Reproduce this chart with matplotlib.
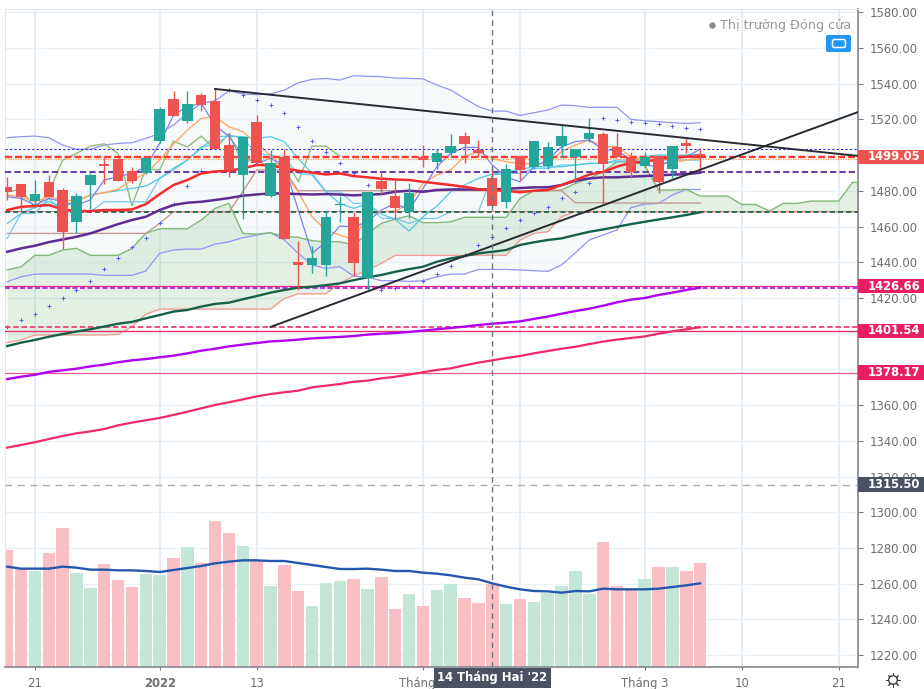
import numpy as np
import matplotlib
matplotlib.use("Agg")
import matplotlib.pyplot as plt
from matplotlib.patches import Rectangle, FancyBboxPatch, Circle

# candles
opens = [1482, 1483.6, 1474.3, 1485, 1480.5, 1462.7, 1483.5, 1494.9, 1497.7, 1490.9,
         1489.8, 1508.1, 1531.3, 1519.3, 1534, 1530.3, 1505.7, 1489, 1518.8, 1477.1,
         1499.1, 1440.1, 1438.5, 1438.5, 1471.9, 1465.3, 1431.2, 1485.3, 1477.1, 1468,
         1498.8, 1496.1, 1501, 1510.7, 1502.9, 1487, 1473.6, 1499.3, 1493.5, 1493.9,
         1505, 1499.1, 1508.9, 1511.7, 1504.8, 1499.2, 1493.9, 1499.5, 1492.2, 1506.6,
         1500.5]
closes = [1479.5, 1476.7, 1478.2, 1476.7, 1456.8, 1477.1, 1488.7, 1494.1, 1485.7, 1485.5,
          1498.2, 1525.7, 1522.1, 1528.5, 1528.3, 1503.3, 1491.7, 1510.4, 1495.8, 1495.8,
          1452.8, 1438.6, 1442.6, 1465.3, 1472.8, 1439.4, 1479.4, 1481, 1470.4, 1479,
          1497.3, 1501, 1505.1, 1506.4, 1501, 1471.7, 1492.4, 1491.7, 1507.9, 1504.6,
          1510.7, 1503.3, 1512.2, 1494.9, 1499.2, 1490.4, 1498.8, 1485.2, 1505.1, 1505.1,
          1499.5]
highs = [1488, 1483.6, 1486, 1488.9, 1481.4, 1479, 1489.8, 1498.8, 1497.7, 1493.5,
         1498.6, 1526.8, 1536.1, 1536.1, 1534.6, 1537.4, 1512.2, 1510.4, 1522.5, 1502.9,
         1503.4, 1451.9, 1449.1, 1469.3, 1477.1, 1468.3, 1479.4, 1490.7, 1486, 1484.6,
         1505.7, 1503.3, 1511.7, 1512.8, 1508.5, 1493.5, 1494.9, 1499.3, 1507.9, 1507.5,
         1516.9, 1503.3, 1520.6, 1513.2, 1512.2, 1502, 1502, 1500, 1505.1, 1509.8,
         1504.2]
lows = [1475, 1467.4, 1471, 1476.7, 1447.4, 1456.2, 1470, 1483.8, 1485.7, 1484.2,
        1489.4, 1507, 1522.1, 1518.2, 1524.7, 1503.3, 1487.9, 1464.2, 1495.4, 1476.4,
        1452.8, 1424.4, 1434.2, 1432.3, 1462.7, 1432.3, 1424.4, 1478.2, 1464, 1465,
        1493.5, 1492, 1498.8, 1495.8, 1499.2, 1471.7, 1470.2, 1486.1, 1492, 1492.4,
        1498.8, 1484.6, 1507.6, 1473.4, 1498.8, 1487, 1493.2, 1479, 1487.4, 1501,
        1491.7]

volumes = [351, 295, 287, 341, 416, 281, 236, 308, 262, 239, 278, 275, 326, 359, 313,
           437, 401, 364, 318, 243, 305, 229, 183, 251, 258, 263, 233, 269, 173, 218,
           183, 230, 249, 208, 191, 250, 188, 203, 194, 221, 243, 289, 218, 374, 243,
           231, 263, 301, 299, 289, 311]
volume_ma = [301, 295, 295, 295, 301, 298, 292, 292, 290, 290, 288, 285, 291, 297, 303,
             311, 316, 320, 320, 318, 318, 312, 306, 300, 294, 294, 295, 292, 288, 288,
             283, 280, 275, 268, 263, 251, 241, 233, 228, 227, 223, 228, 227, 235, 233,
             233, 233, 235, 240, 245, 251]

bb_upper = [1509.8, 1510.4, 1510.7, 1509.8, 1505.7, 1503.3, 1503.3, 1505.7, 1506.6, 1507,
            1509.4, 1512.2, 1516.9, 1523.4, 1529, 1530.5, 1536.1, 1534.3, 1533.9, 1534.3,
            1536.5, 1540.6, 1542.5, 1543, 1542.1, 1544.5, 1544.2, 1544, 1543.2, 1543,
            1542.8, 1539.3, 1536.5, 1531.8, 1527.2, 1524.7, 1524.7, 1522.3, 1523.8, 1525.3,
            1528.1, 1527.7, 1526.8, 1526.8, 1526.8, 1520.1, 1519.3, 1518.8, 1518.2, 1517.8,
            1518.2]
bb_lower = [1429.1, 1431.9, 1433.4, 1433.4, 1433.4, 1433.4, 1433.4, 1432.7, 1432.7, 1432.7,
            1435.1, 1445, 1446.9, 1447.4, 1447.4, 1450.2, 1451.5, 1453.8, 1455.3, 1456.6,
            1452.5, 1445, 1438.5, 1436.6, 1437.5, 1432.3, 1431.6, 1429.7, 1429.7, 1429.3,
            1429.7, 1431.9, 1433.4, 1433.4, 1436, 1436, 1436, 1435.7, 1435.3, 1434.9,
            1438.5, 1445.4, 1452.5, 1455.3, 1458.1, 1470.6, 1472.6, 1473, 1477.7, 1480.8,
            1480.8]

# ichimoku cloud runs on past the last candle
span_a = [1435.7, 1437.5, 1443.9, 1443.9, 1446.9, 1447.8, 1443.9, 1443.9, 1443.9, 1447.8,
          1456.2, 1458.8, 1458.8, 1458.8, 1463.7, 1470.2, 1473, 1456.2, 1455.8, 1456.6,
          1454.4, 1454, 1452.1, 1451.5, 1451.5, 1449.7, 1456.2, 1461.8, 1464.2, 1466.1,
          1462.2, 1462.2, 1462.7, 1465.2, 1465.2, 1465.2, 1465.2, 1475.8, 1480.1, 1480.1,
          1480.5, 1484.2, 1487, 1490.7, 1496.4, 1496.4, 1494.5, 1480.5, 1480.5, 1480.9,
          1477.1, 1477.1, 1477.1, 1472.4, 1472.4, 1468.7, 1473, 1473, 1474.3, 1474.3,
          1474.3, 1484.8, 1484.8]
span_b = [1395, 1396.5, 1399.3, 1399.3, 1399.3, 1399.3, 1399.3, 1399.3, 1399.7, 1404,
          1410.9, 1413.8, 1413.8, 1413.8, 1413.8, 1413.8, 1413.8, 1413.8, 1413.8, 1413.8,
          1419.8, 1422.3, 1422.4, 1422.4, 1428.2, 1432.3, 1435.7, 1439.4, 1443.9, 1443.9,
          1443.9, 1443.9, 1443.9, 1443.9, 1443.9, 1443.9, 1443.9, 1452.5, 1456.2, 1457.1,
          1465.5, 1468.3, 1468.3, 1468.3, 1468.3, 1468.3, 1468.3, 1468.3, 1468.3, 1468.3,
          1468.3, 1468.3, 1468.3, 1468.3, 1468.3, 1468.3, 1468.3, 1468.3, 1468.3, 1468.3,
          1468.3, 1468.3, 1468.3]
kijun = [1456.2, 1456.2, 1456.2, 1456.2, 1456.2, 1456.2, 1456.2, 1456.2, 1456.2, 1456.2,
         1456.2, 1461.8, 1468.3, 1468.3, 1468.3, 1468.3, 1468.3, 1479.5, 1491.7, 1491.7,
         1491.7, 1480.1, 1480.1, 1480.1, 1480.1, 1480.1, 1480.1, 1480.1, 1480.1, 1480.1,
         1480.1, 1480.1, 1480.1, 1480.1, 1480.1, 1480.1, 1480.1, 1480.1, 1480.1, 1480.1,
         1480.1, 1473.4, 1473.4, 1473.4, 1473.2, 1473.2, 1473.2, 1473.2, 1473.2, 1473.2,
         1473.2]
tenkan = [1476.7, 1475.8, 1472.1, 1475.8, 1473.9, 1472.1, 1474.9, 1486.1, 1487.9, 1489.8,
          1493.5, 1506.6, 1522.5, 1527.2, 1529, 1516.9, 1510.4, 1500.1, 1495.4, 1498.2,
          1494.5, 1469.3, 1445, 1451.5, 1460.3, 1459.9, 1462.7, 1469.3, 1473, 1469.3,
          1481.4, 1493.5, 1501, 1504.4, 1504.4, 1494.5, 1487.9, 1485.1, 1493.5, 1497.3,
          1504.7, 1507.6, 1508.5, 1502.9, 1502.9, 1497.3, 1494.5, 1493.5, 1497.7, 1499.1,
          1503.3]

ema_red = [1469.3, 1471.1, 1471.5, 1472.1, 1469.6, 1468.7, 1468.7, 1469.3, 1469.3, 1469.6,
           1472.6, 1478.2, 1483.3, 1486.1, 1489.8, 1490.9, 1491.3, 1492.6, 1494.5, 1494.5,
           1492.6, 1491.3, 1490.2, 1489.2, 1489.8, 1488.3, 1487.6, 1486.8, 1486.4, 1486.1,
           1485.1, 1484.2, 1483.3, 1482.3, 1481, 1480.5, 1480.1, 1479.2, 1480.1, 1480.5,
           1483.3, 1486.1, 1489.2, 1490.7, 1493.6, 1495.8, 1496.4, 1497.7, 1498.8, 1499.2,
           1499.2]
ema_indigo = [1445.9, 1447.8, 1449.3, 1451.3, 1452.8, 1454.3, 1456.2, 1458.8, 1461.4, 1463.7,
              1465.5, 1469.3, 1472.1, 1473.4, 1473.9, 1474.9, 1476, 1477.3, 1478, 1478.6,
              1478.6, 1478.2, 1478, 1478.2, 1478, 1477.5, 1477.9, 1478.2, 1479.5, 1480.1,
              1479.5, 1480.5, 1480.8, 1480.8, 1480.8, 1480.8, 1481.2, 1481.6, 1482, 1482,
              1483.3, 1485.7, 1487, 1487.6, 1487.6, 1488, 1488.3, 1488.7, 1489.1, 1489.4,
              1490.2]
ema_teal = [1393.1, 1395, 1396.5, 1398.3, 1399.8, 1401.2, 1402.5, 1404, 1405.6, 1406.6,
            1408.6, 1410.5, 1412.4, 1413.3, 1415.2, 1416.7, 1417.4, 1419.3, 1421.1, 1423,
            1424.5, 1425.8, 1426.3, 1427.2, 1428.2, 1430, 1431.6, 1432.9, 1434.7, 1436.2,
            1437.5, 1440.3, 1442.2, 1443.5, 1445, 1445.9, 1446.9, 1449.7, 1451.2, 1452.5,
            1453.4, 1455.3, 1457.1, 1458.4, 1459.9, 1461.4, 1462.7, 1464, 1465.2, 1466.5,
            1468]
ema_violet = [1374.6, 1375.9, 1377, 1378.6, 1379.5, 1380.4, 1381.7, 1382.7, 1384, 1385.1,
              1385.8, 1386.8, 1387.7, 1389, 1390.5, 1391.6, 1392.9, 1393.9, 1394.8, 1395.7,
              1396.1, 1396.7, 1397.4, 1397.8, 1398.2, 1398.7, 1399.5, 1400, 1400.4, 1401,
              1401.7, 1402.5, 1403.2, 1404, 1404.9, 1405.6, 1406.2, 1406.9, 1408.3, 1409.6,
              1411.2, 1412.7, 1414, 1415.7, 1417.6, 1419.1, 1420, 1421.7, 1423, 1424.5,
              1425.8]
ema_crimson = [1336.2, 1337.7, 1339.2, 1341, 1342.7, 1344.2, 1345.3, 1346.6, 1348.7, 1350.2,
               1351.5, 1352.8, 1354.5, 1356.3, 1358.2, 1360.1, 1361.6, 1363.2, 1364.9, 1366.2,
               1367.2, 1368.1, 1370, 1370.9, 1371.8, 1373.1, 1373.7, 1375, 1375.9, 1377.1,
               1378.4, 1379.7, 1380.6, 1382.3, 1383.8, 1385.1, 1386.4, 1387.5, 1389, 1390.3,
               1391.6, 1392.7, 1394.2, 1395.6, 1396.7, 1397.6, 1398.5, 1400, 1401.3, 1402.5,
               1403.6]
ma_cyan = [1461.8, 1467.4, 1470.8, 1473.9, 1471.1, 1473.9, 1477.7, 1479, 1480.1, 1481.4,
           1482.7, 1487, 1492.6, 1497.3, 1503.8, 1510.4, 1510.7, 1510.4, 1509.4, 1510.4,
           1507.5, 1498.2, 1489.8, 1479.5, 1473, 1470.2, 1473, 1467, 1464, 1457.5,
           1465.5, 1471.5, 1479.5, 1483.3, 1487, 1489.4, 1490.7, 1492, 1493.5, 1493.5,
           1493.5, 1494.5, 1495.4, 1495.4, 1496.4, 1496.4, 1499.2, 1500.1, 1500.1, 1500.1,
           1500.6]
ma_sky = [1453.4, 1467.4, 1467.4, 1475.8, 1468.3, 1468.3, 1468.3, 1473.9, 1473.9, 1473.9,
          1473.9, 1487, 1491.7, 1497.3, 1504.7, 1505.7, 1511.3, 1509.4, 1501, 1500.1,
          1498.2, 1489.8, 1488.9, 1479.5, 1479.5, 1473, 1473, 1464.6, 1464.6, 1461.8,
          1464.6, 1464.6, 1468.3, 1468.3, 1468.3, 1488.9, 1489.8, 1489.8, 1492.6, 1492.6,
          1494.5, 1494.5, 1495.4, 1495.4, 1497.3, 1497.3, 1497.3, 1497.3, 1497.3, 1497.3,
          1497.3]
ma_orange = [1477.7, 1476.7, 1473.9, 1476.7, 1474.9, 1474.3, 1477.7, 1479, 1480.9, 1486.1,
             1489.8, 1497.3, 1506.2, 1514.1, 1520.6, 1521.6, 1515.9, 1513.2, 1506.6, 1500.1,
             1489.8, 1479.5, 1465.5, 1458, 1455.3, 1452.5, 1466.5, 1468.3, 1468.7, 1473,
             1484.2, 1488.9, 1491.7, 1499.2, 1502, 1498.2, 1496.3, 1495.4, 1495, 1495.8,
             1502, 1505.7, 1508.5, 1504.7, 1504.8, 1499.2, 1497.7, 1495.4, 1495.8, 1497.3,
             1498]
sar = [1404, 1407.5, 1410.9, 1415.5, 1420, 1424.5, 1429.5, 1436.2, 1442.4, 1448.5,
       1453.6, 1462, 1472.4, 1482.7, 1491.1, np.nan, 1536.5, 1533.7, 1530.9, 1528.1,
       1523.8, 1515.9, 1508.1, 1501.9, 1495.4, 1489.8, 1483.3, 1424.4, 1425.8, 1426.7,
       1429.7, 1433.4, 1437.9, 1443.9, 1449.7, 1454.1, 1459, 1463.7, 1467.4, 1471.1,
       1475.8, 1479.4, 1484.6, 1520.6, 1519.7, 1518.8, 1517.8, 1517.3, 1516.3, 1515.4,
       1514.5]

trend_down = ([15, 61.4], [1537.1, 1499.6])
trend_up = ([19, 61.4], [1403.8, 1524.2])

price_ticks = list(range(1220, 1581, 20))
hidden_price_labels = [1380, 1400, 1500]  # covered by the price tags in the original
date_ticks = [2, 11, 18, 30, 37, 46, 53, 60]
date_labels = ["21", "2022", "13", "Tháng 2", "", "Tháng 3", "10", "21"]
crosshair_bar = 35
crosshair_price = 1315.50

# value, colour of the tag on the price scale
price_tags = [(1499.05, "#ef5350"), (1426.66, "#e91e63"), (1401.54, "#e91e63"),
              (1378.17, "#e91e63"), (crosshair_price, "#4a5160")]

UP = "#26a69a"
DOWN = "#ef5350"
GREY = "#6e6e74"

W, H = 924, 689
LEFT, RIGHT, TOP, BOTTOM = 5, 858, 9, 667
XLIM = (-0.159, 61.39)
YLIM = (1213.3, 1581.9)
AX_RECT = [LEFT / W, 1 - BOTTOM / H, (RIGHT - LEFT) / W, (BOTTOM - TOP) / H]


def draw_grid(fig):
    ax = fig.add_axes(AX_RECT)
    ax.set_xlim(XLIM)
    ax.set_ylim(YLIM)
    ax.set_xticks(date_ticks)
    ax.set_yticks(price_ticks)
    ax.set_xticklabels([])
    ax.set_yticklabels([])
    ax.tick_params(length=0)
    ax.grid(True, axis="x", color="#e3edf4", lw=1.4)
    ax.grid(True, axis="y", color="#e9f0f6", lw=1.0)
    for s in ax.spines.values():
        s.set_visible(False)


def draw_volume(fig, idx):
    ax = fig.add_axes(AX_RECT)
    ax.patch.set_visible(False)
    ax.set_xlim(XLIM)
    ax.set_ylim(0, 1974)
    ax.axis("off")
    colors = ["#c4e6d7" if c > o else "#f8c0c4" for o, c in zip(opens, closes)]
    ax.bar(idx, volumes, width=0.9, color=colors)
    ax.plot(idx, volume_ma, color="#2558ac", lw=1.7)


def draw_candles(ax, idx):
    for i in idx:
        col = UP if closes[i] > opens[i] else DOWN
        ax.vlines(i, lows[i], highs[i], color=col, lw=1.0, zorder=6)
        lo = min(opens[i], closes[i])
        hi = max(opens[i], closes[i])
        ax.bar(i, hi - lo, bottom=lo, width=0.75, color=col, zorder=6)


def draw_price_pane(ax, idx):
    ax.patch.set_visible(False)
    ax.set_xlim(XLIM)
    ax.set_ylim(YLIM)

    ax.fill_between(idx, bb_lower, bb_upper, color="#eef5f8", alpha=0.45, lw=0, zorder=1)
    cloud = np.arange(len(span_a))
    ax.fill_between(cloud, span_a, span_b, color="#5ea45c", alpha=0.16, lw=0, zorder=1.2)

    ax.plot(idx, bb_upper, color="#9195f3", lw=0.9, zorder=3)
    ax.plot(idx, bb_lower, color="#9195f3", lw=0.9, zorder=3)
    ax.plot(cloud, span_a, color="#80b877", lw=1.0, zorder=3)
    ax.plot(cloud, span_b, color="#f0a097", lw=1.0, zorder=3)
    ax.plot(idx, kijun, color="#c39a92", lw=1.0, zorder=3)
    ax.plot(idx[:25], closes[26:], color="#93bc7c", lw=1.0, zorder=3)
    ax.plot(idx, ma_sky, color="#74c6f7", lw=0.9, zorder=3)
    ax.plot(idx, ma_cyan, color="#4fc9e0", lw=0.9, zorder=3)
    ax.plot(idx, ma_orange, color="#ffa767", lw=1.0, zorder=3)
    ax.plot(idx, tenkan, color="#7d7ff2", lw=0.9, zorder=3)
    ax.plot(idx, sar, ls="none", marker="+", ms=2.6, mew=0.7, color="#5a5df0", zorder=3)

    ax.axhline(1503.3, color="#2a2ae0", lw=0.8, ls=(0, (2, 2)), zorder=4)
    ax.axhline(1499.05, color="#ff3b30", lw=1.7, ls=(0, (3, 1.2)), zorder=4)
    ax.axhline(1497.9, color="#ffa34d", lw=0.9, ls=(0, (1, 1)), zorder=4)
    ax.axhline(1490.6, color="#6b3fa6", lw=1.5, ls=(0, (3, 1.5)), zorder=4)
    ax.axhline(1468.9, color="#f0807a", lw=0.7, zorder=4)
    ax.axhline(1468.1, color="#2e6b57", lw=1.4, ls=(0, (2.6, 1.6)), zorder=4)
    ax.axhline(1426.66, color="#ea2a75", lw=0.9, zorder=4)
    ax.axhline(1425.6, color="#b13af5", lw=1.5, ls=(0, (2.4, 1.2)), zorder=4)
    ax.axhline(1403.6, color="#ee3f77", lw=1.3, ls=(0, (3, 1.6)), zorder=4)
    ax.axhline(1401.54, color="#e5306e", lw=1.0, zorder=4)
    ax.axhline(1378.17, color="#ea5b8e", lw=0.9, zorder=4)

    ax.plot(idx, ema_teal, color="#17604a", lw=1.7, zorder=5)
    ax.plot(idx, ema_violet, color="#b000f5", lw=1.7, zorder=5)
    ax.plot(idx, ema_crimson, color="#ef2b66", lw=1.6, zorder=5)
    ax.plot(idx, ema_indigo, color="#5e2d91", lw=1.8, zorder=5)
    ax.plot(idx, ema_red, color="#f42c2c", lw=1.8, zorder=5)

    draw_candles(ax, idx)

    ax.plot(*trend_down, color="#2a2a32", lw=1.4, zorder=7)
    ax.plot(*trend_up, color="#2a2a32", lw=1.4, zorder=7)
    ax.axvline(crosshair_bar, color="#6f7680", lw=1.0, ls=(0, (4, 3)), zorder=8)
    ax.axhline(crosshair_price, color="#a9adb3", lw=1.0, ls=(0, (5, 4)), zorder=8)

    ax.yaxis.tick_right()
    ax.set_yticks(price_ticks)
    ax.set_yticklabels(["" if p in hidden_price_labels else f"{p:.2f}" for p in price_ticks])
    ax.set_xticks(date_ticks)
    ax.set_xticklabels(date_labels)
    ax.get_xticklabels()[1].set_fontweight("bold")
    ax.tick_params(axis="y", length=3.6, width=0.8, color="#787b86", labelcolor=GREY,
                   labelsize=8.4, pad=5)
    ax.tick_params(axis="x", length=2.5, width=0.8, color="#787b86", labelcolor=GREY,
                   labelsize=8.4, pad=4.5)
    for side in ["right", "bottom"]:
        ax.spines[side].set_color("#85858c")
        ax.spines[side].set_linewidth(1.2)
    for side in ["left", "top"]:
        ax.spines[side].set_color("#e2e7ed")
        ax.spines[side].set_linewidth(0.8)


def draw_tags(ax):
    tag_w = (W - RIGHT) / (RIGHT - LEFT)
    tag_h = 8.2
    trans = ax.get_yaxis_transform()
    for value, col in price_tags:
        ax.add_patch(Rectangle((1, value - tag_h / 2), tag_w, tag_h, transform=trans,
                               color=col, clip_on=False, zorder=20, lw=0))
        ax.text(1 + tag_w * 0.545, value, f"{value:.2f}", transform=trans, color="white",
                fontsize=8.4, fontweight="bold", ha="center", va="center", zorder=21)

    # date tag under the crosshair
    trans = ax.get_xaxis_transform()
    half = 58.5 / 13.856
    ax.add_patch(Rectangle((crosshair_bar - half, -21 / (BOTTOM - TOP)), half * 2, 20.5 / (BOTTOM - TOP),
                           transform=trans, color="#4a5160", clip_on=False, zorder=20, lw=0))
    ax.text(crosshair_bar, -11 / (BOTTOM - TOP), "14 Tháng Hai '22", transform=trans, color="white",
            fontsize=8.4, fontweight="bold", ha="center", va="center", zorder=21)


def draw_overlay(fig):
    ov = fig.add_axes([0, 0, 1, 1])
    ov.patch.set_visible(False)
    ov.set_xlim(0, W)
    ov.set_ylim(H, 0)
    ov.axis("off")
    ov.plot(711.5, 25, "o", ms=3.6, color="#8a8a90")
    ov.text(720, 25, "Thị trường Đóng cửa", color="#97979c", fontsize=9.2, ha="left", va="center")
    ov.add_patch(FancyBboxPatch((828, 37), 21, 13, boxstyle="round,pad=2,rounding_size=2",
                                fc="#2196f3", ec="none"))
    ov.add_patch(FancyBboxPatch((833, 40), 12, 7, boxstyle="round,pad=0.5,rounding_size=2",
                                fc="none", ec="white", lw=1.1))
    ov.plot(893, 680, marker=(8, 2, 0), ms=10, mew=0.7, color="#2a2e39")
    ov.add_patch(Circle((893, 680), 4.3, fc="white", ec="#2a2e39", lw=0.9, zorder=5))


def main():
    fig = plt.figure(figsize=(W / 100, H / 100), dpi=100, facecolor="white")
    idx = np.arange(len(closes))
    draw_grid(fig)
    draw_volume(fig, idx)
    ax = fig.add_axes(AX_RECT)
    draw_price_pane(ax, idx)
    draw_tags(ax)
    draw_overlay(fig)
    fig.savefig("out.png", dpi=100)
    plt.close(fig)


if __name__ == "__main__":
    main()
